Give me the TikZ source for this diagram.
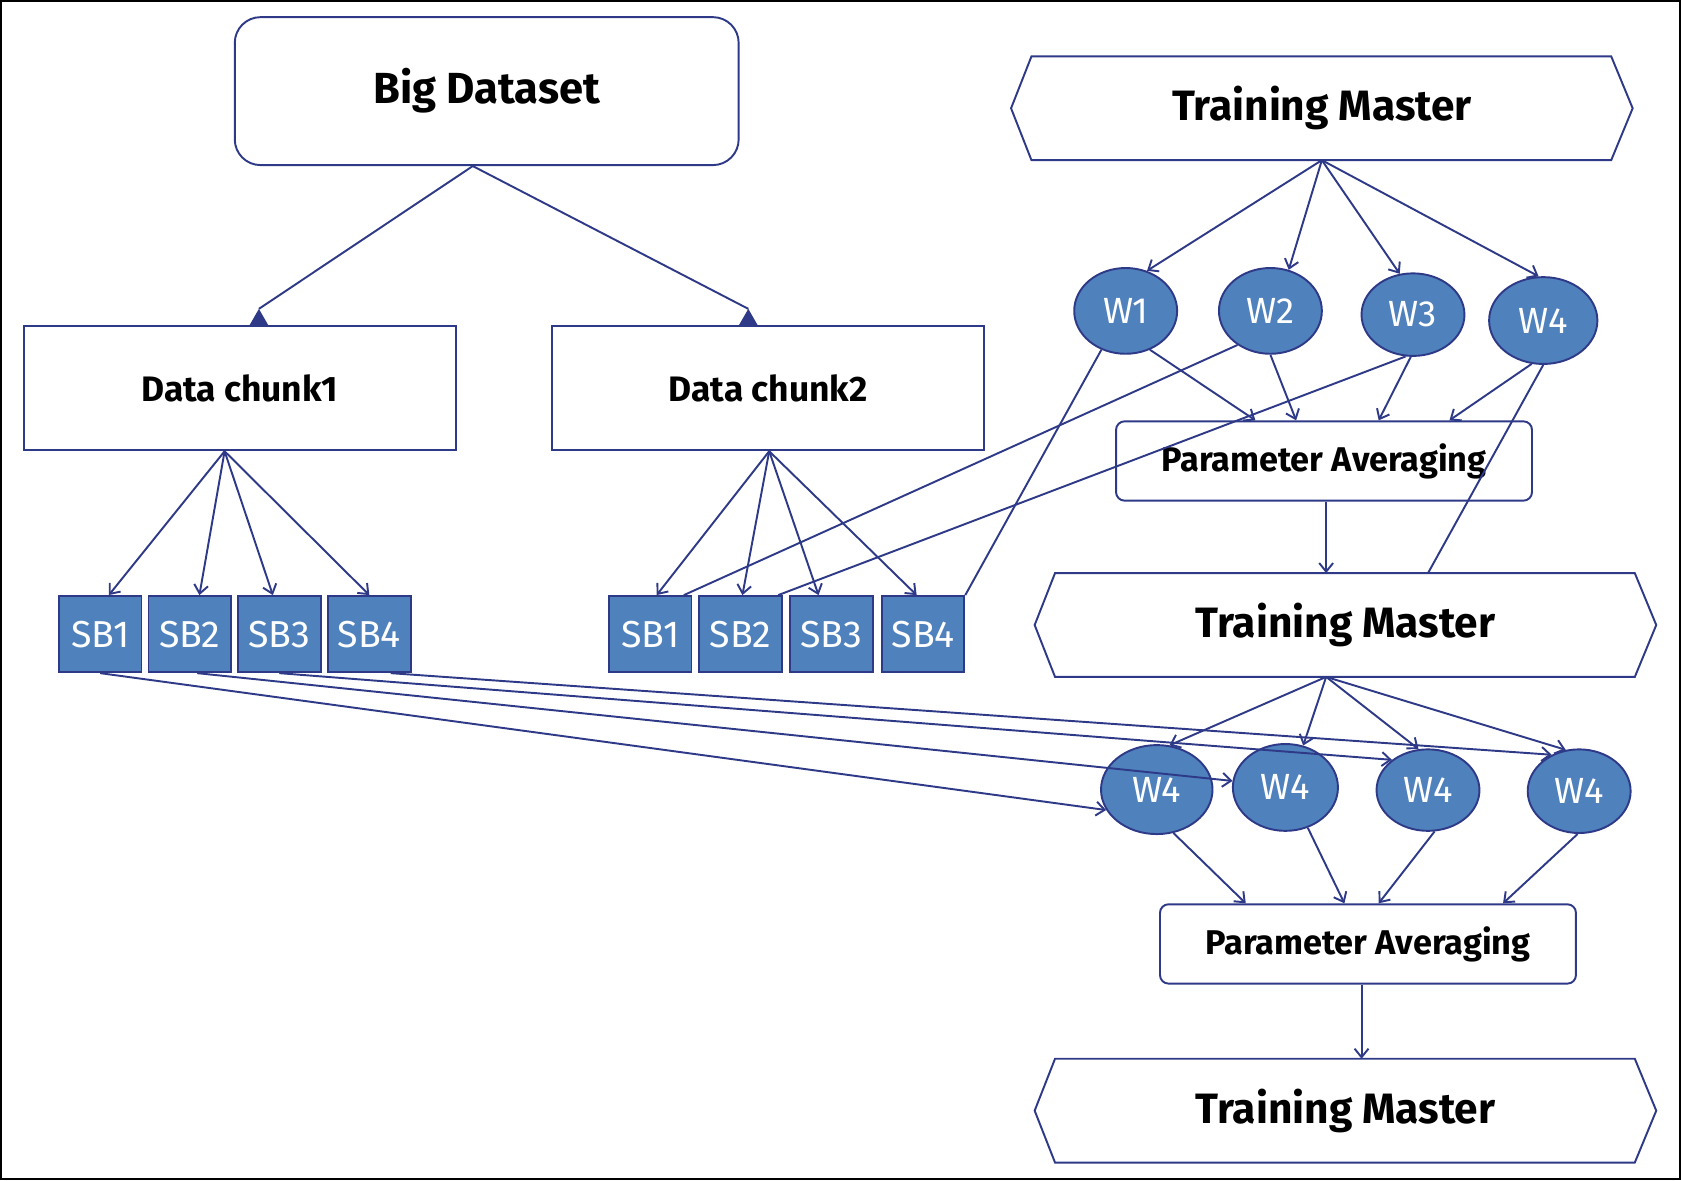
\documentclass[tikz,border=0pt]{standalone}
\usepackage{fontspec}
\setmainfont{Fira Sans}
\usetikzlibrary{arrows.meta,calc,shapes.geometric}
\definecolor{navy}{RGB}{46,58,135}
\definecolor{sbblue}{RGB}{79,129,189}
\newcommand\hexshape[1]{\draw[nline] (#1.west) -- ([xshift=9.5pt]#1.north west) -- ([xshift=-10pt]#1.north east) -- (#1.east) -- ([xshift=-10pt]#1.south east) -- ([xshift=9.5pt]#1.south west) -- cycle;}
\newcommand\uptri[2]{\fill[navy] ([xshift=#2, yshift=7.5pt]#1.north) -- ([xshift=#2-4.3pt]#1.north) -- ([xshift=#2+4.3pt]#1.north) -- cycle;}
\begin{document}
\begin{tikzpicture}[x=0.5pt,y=-0.5pt,
 nline/.style={draw=navy,line width=0.9pt},
 arr/.style={nline,-{Straight Barb[length=4pt,width=6.5pt]}},
 boxlbl/.style={font=\bfseries\fontsize{16.5}{19}\selectfont},
 bigbox/.style={nline, rounded corners=12pt, inner sep=0, minimum width=235pt, minimum height=69pt, font=\bfseries\fontsize{20.3}{24}\selectfont},
 chunk/.style={nline, inner sep=0, minimum width=201.5pt, minimum height=58pt, boxlbl},
 sb/.style={nline, fill=sbblue, inner sep=0, minimum width=38.5pt, minimum height=35.5pt, text=white, font=\fontsize{17.5}{20}\selectfont},
 wk/.style={ellipse, nline, fill=sbblue, inner sep=0, text=white, font=\fontsize{17}{20}\selectfont},
 pavg/.style={nline, rounded corners=4pt, inner sep=0, minimum width=194pt, minimum height=37pt, font=\bfseries\fontsize{16}{19}\selectfont},
 tm/.style={inner sep=0, minimum width=289.5pt, minimum height=48pt, font=\bfseries\fontsize{19.8}{24}\selectfont},
]
\useasboundingbox (0,0) rectangle (1568,1101);
\draw[black, line width=1pt] (0.5,0.5) rectangle (1567,1100);

% nodes
\node[bigbox] (big) at (454,85) {Big Dataset};
\node[chunk] (dc1) at (223.5,362) {Data chunk1};
\node[chunk] (dc2) at (716.5,362) {Data chunk2};
\foreach \n/\x in {1/93.5,2/177,3/260.5,4/344.5} \node[sb] (sbl\n) at (\x,591.5) {SB\n};
\foreach \n/\x in {1/606.5,2/690.5,3/775.5,4/861} \node[sb] (sbr\n) at (\x,591.5) {SB\n};

\node[tm] (tm1) at (1233,101) {Training Master};
\node[tm] (tm2) at (1255,583) {Training Master};
\node[tm] (tm3) at (1255,1036) {Training Master};
\hexshape{tm1}
\hexshape{tm2}
\hexshape{tm3}

\node[wk, minimum width=48pt, minimum height=40pt] (w1) at (1050,290) {W1};
\node[wk, minimum width=48pt, minimum height=40pt] (w2) at (1185,290) {W2};
\node[wk, minimum width=48pt, minimum height=38.5pt] (w3) at (1318,293.5) {W3};
\node[wk, minimum width=50.5pt, minimum height=40.5pt] (w4) at (1439.5,299) {W4};
\node[pavg] (pa1) at (1235,430) {Parameter Averaging};

\node[wk, minimum width=52pt, minimum height=41.5pt] (v1) at (1079,736.5) {W4};
\node[wk, minimum width=49pt, minimum height=40.5pt] (v2) at (1199,734.5) {W4};
\node[wk, minimum width=48pt, minimum height=38pt] (v3) at (1332,737) {W4};
\node[wk, minimum width=48pt, minimum height=39pt] (v4) at (1473,738) {W4};
\node[pavg] (pa2) at (1276,880.5) {Parameter Averaging};

% connectors
\draw[nline] ([xshift=-6.5pt]big.south) -- ([xshift=9pt,yshift=7.5pt]dc1.north);
\draw[nline] ([xshift=-6.5pt]big.south) -- ([xshift=-9.25pt,yshift=7.5pt]dc2.north);
\uptri{dc1}{9pt}
\uptri{dc2}{-9.25pt}
\foreach \n/\s in {1/4pt,2/4.5pt,3/-3pt,4/0pt} \draw[arr] ([xshift=-7pt]dc1.south) -- ([xshift=\s]sbl\n.north);
\foreach \n/\s in {1/3pt,2/1pt,3/-6pt,4/-3pt} \draw[arr] ([xshift=0.5pt]dc2.south) -- ([xshift=\s]sbr\n.north);

\foreach \w/\a in {1/62,2/66,3/108,4/96} \draw[arr] (tm1.south) -- (w\w.\a);
\foreach \w/\a/\s in {1/302/-32pt,2/270/-13pt,3/267/25.5pt,4/255/58.5pt} \draw[arr] (w\w.\a) -- ([xshift=\s]pa1.north);

\draw[nline] (w1.238) -- (sbr4.north east);
\draw[nline] (w2.226) -- ([xshift=-4pt]sbr1.north east);
\draw[nline] (w3.260) -- ([xshift=-2pt]sbr2.north east);
\draw[nline] (w4.270) -- ([xshift=38.5pt]tm2.north);

\coordinate (pa1o) at ([xshift=1pt]pa1.south);
\draw[arr] (pa1o) -- (pa1o |- tm2.north);

\foreach \w/\a in {1/74,2/67,3/103,4/108} \draw[arr] ([xshift=-9pt]tm2.south) -- (v\w.\a);

\draw[arr] (sbl1.south) -- (v1.202);
\draw[arr] ([xshift=3.5pt]sbl2.south) -- (v2.173);
\draw[arr] (sbl3.south) -- (v3.140);
\draw[arr] ([xshift=10pt]sbl4.south) -- (v4.127);

\foreach \w/\a/\s in {1/291/-57pt,2/299/-11pt,3/279/5pt,4/268/63pt} \draw[arr] (v\w.\a) -- ([xshift=\s]pa2.north);

\coordinate (pa2o) at ([xshift=-3pt]pa2.south);
\draw[arr] (pa2o) -- (pa2o |- tm3.north);
\end{tikzpicture}
\end{document}
